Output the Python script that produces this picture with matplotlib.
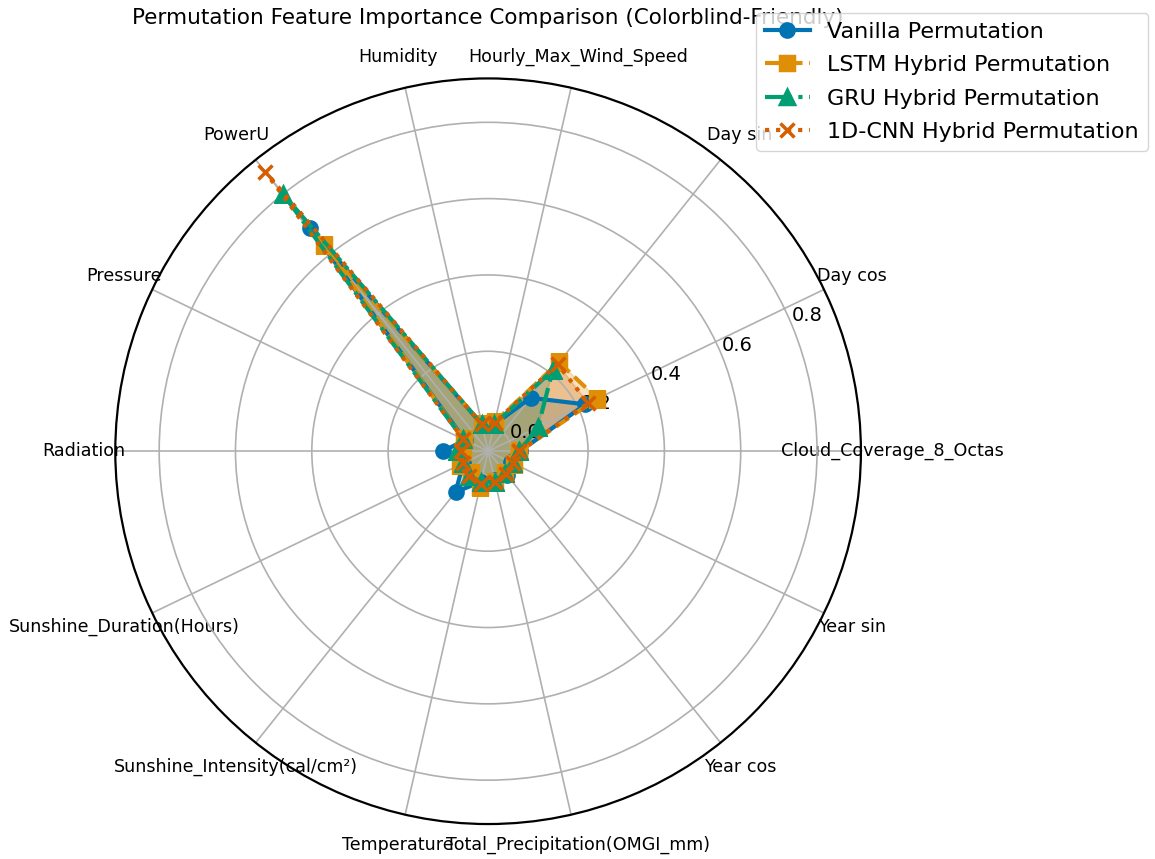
import numpy as np
import matplotlib
matplotlib.use("Agg")
import matplotlib.pyplot as plt

# --- data ---
features = ["Cloud_Coverage_8_Octas", "Day cos", "Day sin", "Hourly_Max_Wind_Speed",
            "Humidity", "PowerU", "Pressure", "Radiation", "Sunshine_Duration(Hours)",
            "Sunshine_Intensity(cal/cm²)", "Temperature", "Total_Precipitation(OMGI_mm)",
            "Year cos", "Year sin"]

vanilla = [0.022, 0.221, 0.117, 0.010, 0.010, 0.686, 0.005, 0.057, 0.010,
           0.075, 0.020, 0.015, 0.019, 0.005]
lstm = [0.020, 0.256, 0.236, 0.017, 0.012, 0.628, 0.009, 0.005, 0.021,
        0.010, 0.034, 0.020, 0.010, 0.014]
gru = [0.020, 0.083, 0.210, 0.010, 0.010, 0.800, 0.010, 0.020, 0.010,
       0.020, 0.020, 0.020, 0.010, 0.010]
cnn = [0.020, 0.229, 0.230, 0.015, 0.010, 0.874, 0.010, 0.010, 0.010,
       0.020, 0.025, 0.020, 0.015, 0.010]

series_names = ["Vanilla Permutation", "LSTM Hybrid Permutation",
                "GRU Hybrid Permutation", "1D-CNN Hybrid Permutation"]
series_values = [vanilla, lstm, gru, cnn]

# colorblind palette + styles
colors = ["#0173B2", "#DE8F05", "#029E73", "#D55E00"]
styles = ["-", "--", "-.", ":"]
markers = ["o", "s", "^", "x"]

N = len(features)
angles = np.linspace(0, 2 * np.pi, N, endpoint=False)
angles_closed = np.concatenate([angles, angles[:1]])

fig = plt.figure(figsize=(11.55, 8.59), dpi=100)
ax = fig.add_axes([0.0996, 0.0407, 0.646, 0.868], projection="polar")

for name, vals, c, ls, mk in zip(series_names, series_values, colors, styles, markers):
    v = np.concatenate([vals, vals[:1]])
    ax.plot(angles_closed, v, color=c, linestyle=ls, marker=mk, linewidth=3,
            markersize=9.5, markeredgewidth=2.5, label=name)
    ax.fill(angles_closed, v, color=c, alpha=0.25)

ax.set_xticks(angles)
ax.set_xticklabels(features, fontsize=12.6)
ax.tick_params(axis="x", pad=12)
ax.set_ylim(-0.062, 0.915)
ax.set_yticks([0.0, 0.2, 0.4, 0.6, 0.8])
ax.tick_params(axis="y", labelsize=14)
ax.grid(True, color="#b0b0b0", linewidth=1.2)
ax.spines["polar"].set_linewidth(1.6)

# title sits above the polar frame, partly hidden by the legend
fig.text(0.4225, 1 - 18 / 859, "Permutation Feature Importance Comparison (Colorblind-Friendly)",
         fontsize=15.5, ha="center", va="center")

fig.legend(loc="upper right", bbox_to_anchor=(1148 / 1155, 1 - 13 / 859), fontsize=16,
           borderaxespad=0, labelspacing=0.6)

fig.savefig("out.png", dpi=100)
